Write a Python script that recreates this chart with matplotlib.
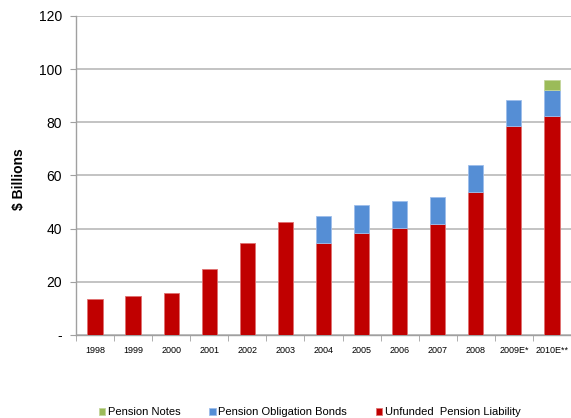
import matplotlib
matplotlib.use("Agg")
import matplotlib.pyplot as plt
import numpy as np

plt.rcParams['font.family'] = ['Liberation Sans', 'DejaVu Sans']

categories = ["1998", "1999", "2000", "2001", "2002", "2003", "2004", "2005",
              "2006", "2007", "2008", "2009E*", "2010E**"]
unfunded = [13.5, 14.8, 15.7, 24.7, 34.6, 42.5, 34.5, 38.5, 40.3, 41.8, 53.9, 78.6, 82.4]
pob = [0, 0, 0, 0, 0, 0, 10.2, 10.3, 9.9, 10.0, 10.0, 9.9, 9.8]
notes = [0, 0, 0, 0, 0, 0, 0, 0, 0, 0, 0, 0, 3.7]
yticks = [0, 20, 40, 60, 80, 100, 120]
ytick_labels = ["-", "20", "40", "60", "80", "100", "120"]

red = "#C00000"
blue = "#558ED5"
green = "#9BBB59"

fig = plt.figure(figsize=(5.71, 4.18), dpi=100)
ax = fig.add_axes([0.133, 0.1986, 0.867, 0.7634])

x = np.arange(len(categories))
w = 0.4
u = np.array(unfunded)
p = np.array(pob)
n = np.array(notes)

def draw(vals, bottom, color, edge, label):
    m = vals > 0
    ax.bar(x[m], vals[m], w, bottom=bottom[m], color=color, edgecolor=edge,
           linewidth=0.6, zorder=3, label=label)

draw(u, np.zeros_like(u), red, "#E07070", "Unfunded  Pension Liability")
draw(p, u, blue, "#9DBDEB", "Pension Obligation Bonds")
draw(n, u + p, green, "#C3D69B", "Pension Notes")

ax.set_xlim(-0.5, len(categories) - 0.5)
ax.set_ylim(0, 120)
ax.set_yticks(yticks)
ax.set_yticklabels(ytick_labels, fontsize=10)
ax.yaxis.grid(True, color="#BEBEBE", linewidth=1.3, zorder=0)
ax.set_axisbelow(True)

ax.set_xticks(x)
ax.set_xticklabels(categories, fontsize=6.5)
ax.tick_params(axis='x', length=0, pad=8)
ax.set_xticks(np.arange(-0.5, len(categories)), minor=True)
ax.tick_params(axis='x', which='minor', length=4, color="#A0A0A0", direction='out')
ax.tick_params(axis='y', length=4, color="#A0A0A0", direction='out', pad=6)

for s in ["top", "right"]:
    ax.spines[s].set_visible(False)
for s in ["left", "bottom"]:
    ax.spines[s].set_color("#A0A0A0")
    ax.spines[s].set_linewidth(1.0)

ax.set_ylabel("$ Billions", fontsize=10, fontweight="bold")
ax.yaxis.set_label_coords(-0.101, 0.49)

handles, labels = ax.get_legend_handles_labels()
order = [2, 1, 0]
leg = fig.legend([handles[i] for i in order], [labels[i] for i in order],
                 loc="center", bbox_to_anchor=(0.542, 0.014), ncol=3, frameon=False,
                 fontsize=8, handlelength=0.6, handleheight=0.6, handletextpad=0.2,
                 columnspacing=2.6)

fig.savefig("out.png", dpi=100)
